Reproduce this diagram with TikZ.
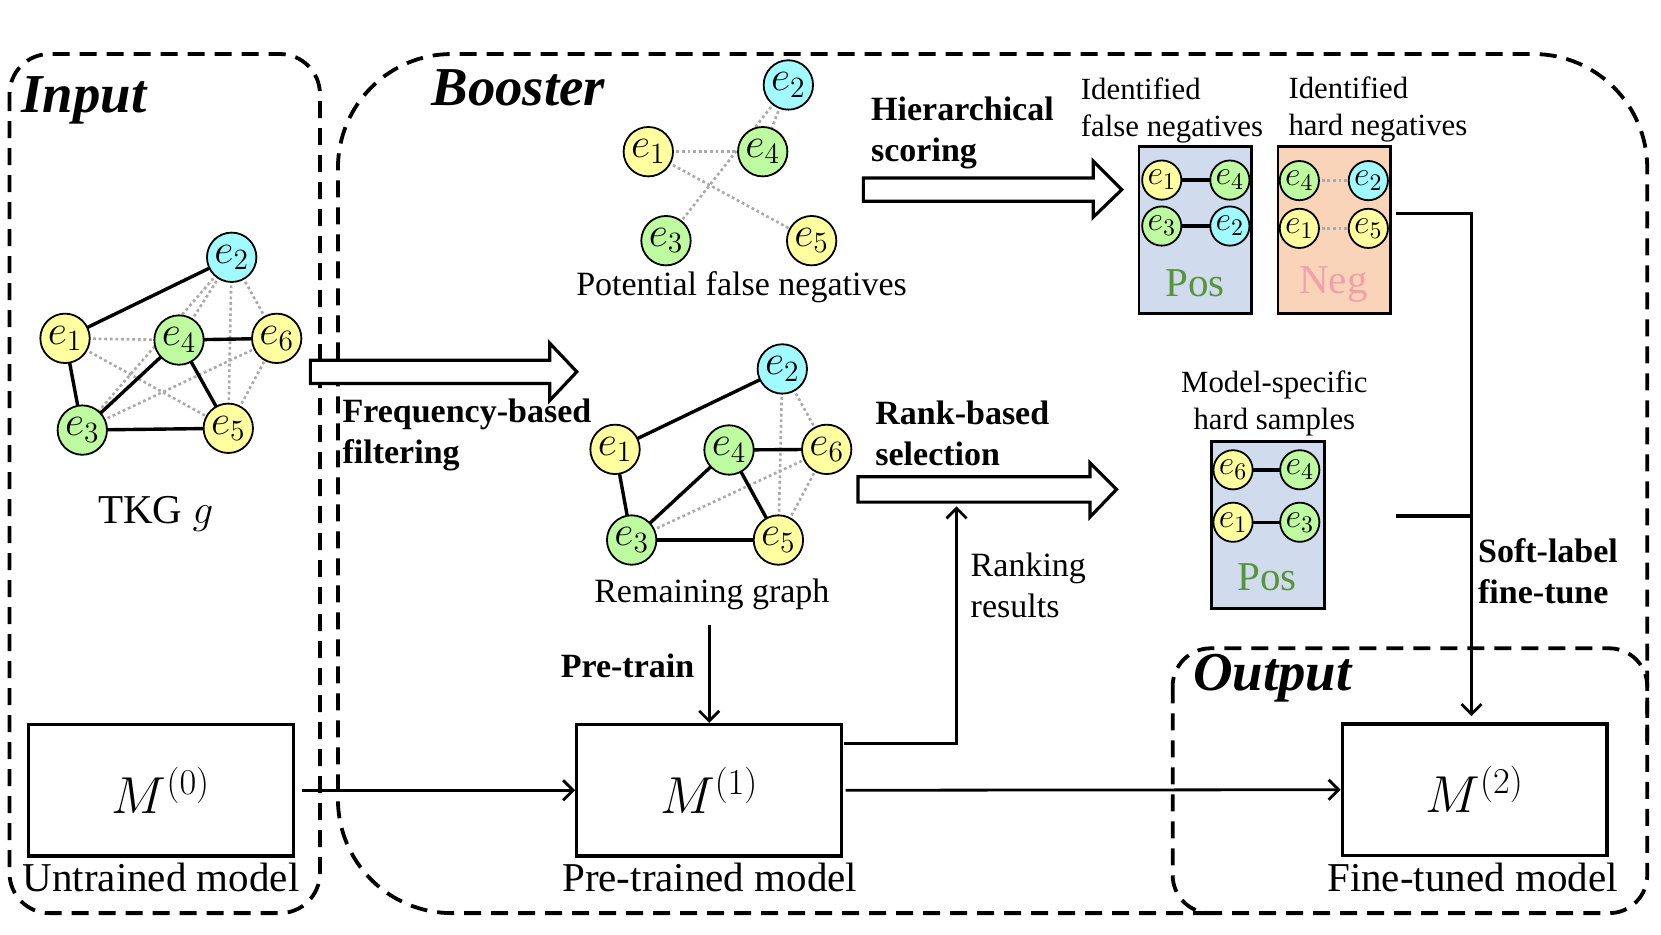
\RequirePackage{fix-cm}
\documentclass[tikz,border=0pt]{standalone}
\usepackage{fontspec}
\setmainfont{Liberation Serif}
\usetikzlibrary{arrows.meta}
\pgfdeclarelayer{back}
\pgfdeclarelayer{edges}
\pgfsetlayers{back,edges,main}
\definecolor{ey}{RGB}{255,255,160}
\definecolor{eg}{RGB}{190,250,160}
\definecolor{ec}{RGB}{160,250,255}
\definecolor{posfill}{RGB}{208,220,238}
\definecolor{negfill}{RGB}{250,212,185}
\definecolor{posgreen}{RGB}{88,148,58}
\definecolor{negpink}{RGB}{242,160,170}
\definecolor{dotgray}{RGB}{170,170,170}
\newcommand\fs[2]{\fontsize{#1}{#2}\selectfont}
\begin{document}
\begin{tikzpicture}[x=0.5296pt,y=-0.5296pt,
 every node/.style={inner sep=0pt},
 grp/.style={draw,line width=1.9pt,dash pattern=on 8.5pt off 5pt},
 ent/.style={circle,draw,line width=0.9pt,minimum size=24.7pt,inner sep=0pt,font=\fs{21}{24}},
 ents/.style={circle,draw,line width=0.9pt,minimum size=19.6pt,inner sep=0pt,font=\fs{17}{20}},
 sedge/.style={line width=1.7pt},
 dedge/.style={draw=dotgray,line width=1.3pt,dash pattern=on 1.4pt off 1.4pt},
 modelbox/.style={draw,line width=1.6pt,minimum width=132.4pt,minimum height=65.7pt,font=\fs{26}{30}},
 setbox/.style={draw,line width=1.3pt,minimum width=56.3pt,minimum height=83.3pt},
 conn/.style={line width=1.4pt,-{Straight Barb[length=5pt,width=10pt]}},
 barrow/.style={draw,line width=1.6pt,fill=white,line join=miter},
 title/.style={font=\fs{27.4}{32}\bfseries\itshape},
 blbl/.style={font=\fs{17}{20.7}\bfseries,align=left},
 rlbl/.style={font=\fs{17}{20.4}},
 slbl/.style={font=\fs{15.4}{18.5}},
 mlbl/.style={font=\fs{20.5}{24}},
 setlbl/.style={font=\fs{20.5}{24}},
 ]
\useasboundingbox (0,0) rectangle (1568,882);

% ---------- group frames ----------
\draw[grp, rounded corners=20pt] (9,51) rectangle (302,862);
\draw[grp, rounded corners=57pt] (1555,700) -- (1555,51) -- (319,51) -- (319,862) -- (1150,862);
\draw[grp, rounded corners=19pt] (1107,612) rectangle (1555,862);

\node[title, anchor=base west] (tin) at (20,106) {Input};
\node[title, anchor=base west] (tbo) at (407,100) {Booster};
\node[title, anchor=base west] (tout) at (1126,652) {Output};

% ---------- TKG ----------
\node[ent, fill=ey] (a1) at (61.4,319.4) {$e_1$};
\node[ent, fill=ec] (a2) at (218.7,242.9) {$e_2$};
\node[ent, fill=eg] (a3) at (77.7,406) {$e_3$};
\node[ent, fill=eg] (a4) at (169,321) {$e_4$};
\node[ent, fill=ey] (a5) at (215.5,404.3) {$e_5$};
\node[ent, fill=ey] (a6) at (261.2,319.4) {$e_6$};
\node[mlbl, anchor=base] (tkg) at (147,494) {TKG $g$};

% ---------- potential false negatives ----------
\node[ent, fill=ey] (c1) at (612,143.2) {$e_1$};
\node[ent, fill=ec] (c2) at (744.2,80.2) {$e_2$};
\node[ent, fill=eg] (c3) at (628.7,227.2) {$e_3$};
\node[ent, fill=eg] (c4) at (720,143.2) {$e_4$};
\node[ent, fill=ey] (c5) at (766.2,227.2) {$e_5$};
\node[rlbl, anchor=base] (pfn) at (700,279) {Potential false negatives};

% ---------- remaining graph ----------
\node[ent, fill=ey] (b1) at (580.6,424.2) {$e_1$};
\node[ent, fill=ec] (b2) at (738.5,348.3) {$e_2$};
\node[ent, fill=eg] (b3) at (596.3,509.8) {$e_3$};
\node[ent, fill=eg] (b4) at (688.2,424.8) {$e_4$};
\node[ent, fill=ey] (b5) at (734.8,509.8) {$e_5$};
\node[ent, fill=ey] (b6) at (780.4,424.2) {$e_6$};
\node[rlbl, anchor=base] (rg) at (672,569) {Remaining graph};

% ---------- sample sets ----------
\begin{pgfonlayer}{back}
\node[setbox, fill=posfill] (pos1) at (1128.5,217.2) {};
\node[setbox, fill=negfill] (neg1) at (1259.5,217.2) {};
\node[setbox, fill=posfill] (pos2) at (1197,495.7) {};
\end{pgfonlayer}
\node[ents, fill=ey] (p1) at (1096.7,170) {$e_1$};
\node[ents, fill=eg] (p4) at (1161,170) {$e_4$};
\node[ents, fill=eg] (p3) at (1096.7,213.4) {$e_3$};
\node[ents, fill=ec] (p2) at (1161,213.4) {$e_2$};
\node[setlbl, text=posgreen] (ptxt1) at (1128,267.5) {Pos};
\node[ents, fill=eg] (n4) at (1226.6,170.5) {$e_4$};
\node[ents, fill=ec] (n2) at (1291.7,170.5) {$e_2$};
\node[ents, fill=ey] (n1) at (1226.6,215.6) {$e_1$};
\node[ents, fill=ey] (n5) at (1291.7,215.6) {$e_5$};
\node[setlbl, text=negpink] (ntxt) at (1258.7,269) {Neg};
\node[ents, fill=ey] (h6) at (1164,443.5) {$e_6$};
\node[ents, fill=eg] (h4) at (1227,443.5) {$e_4$};
\node[ents, fill=ey] (h1) at (1164,493) {$e_1$};
\node[ents, fill=eg] (h3) at (1227,493) {$e_3$};
\node[setlbl, text=posgreen] (ptxt2) at (1196,545) {Pos};

\node[slbl, anchor=north west, align=left] (ifn) at (1020,73) {Identified\\false negatives};
\node[slbl, anchor=north west, align=left] (ihn) at (1216,72) {Identified\\hard negatives};
\node[slbl, anchor=north, align=center] (mhs) at (1203,350) {Model-specific\\hard samples};

% ---------- edges ----------
\begin{pgfonlayer}{edges}
\foreach \u/\v in {a1/a4,a1/a5,a2/a4,a2/a3,a2/a5,a2/a6,a3/a6,a5/a6,
                   b2/b5,b2/b6,b3/b6,b5/b6,
                   c1/c4,c1/c5,c2/c4,c2/c3,
                   n4/n2,n1/n5}
  \draw[dedge] (\u.center) -- (\v.center);
\foreach \u/\v in {a1/a2,a1/a3,a3/a4,a4/a6,a4/a5,a3/a5,
                   b1/b2,b1/b3,b3/b4,b4/b6,b4/b5,b3/b5,
                   p1/p4,p3/p2,h6/h4,h1/h3}
  \draw[sedge] (\u.center) -- (\v.center);
\end{pgfonlayer}

% ---------- block arrows ----------
\draw[barrow] (293,340) -- (519,340) -- (519,324) -- (544.5,351) -- (519,378) -- (519,362) -- (293,362) -- cycle;
\draw[barrow] (815,168) -- (1032,168) -- (1032,152) -- (1059,179) -- (1032,205) -- (1032,190) -- (815,190) -- cycle;
\draw[barrow] (810,450) -- (1029,450) -- (1029,437) -- (1054,462) -- (1029,488) -- (1029,474) -- (810,474) -- cycle;

\node[blbl, anchor=north west] (fbf) at (323,376) {Frequency-based\\filtering};
\node[blbl, anchor=north west] (hsc) at (822,91) {Hierarchical\\scoring};
\node[blbl, anchor=north west] (rbs) at (826,378) {Rank-based\\selection};
\node[blbl, anchor=base west] (ptr) at (529,640) {Pre-train};
\node[blbl, anchor=north west] (slf) at (1395,508) {Soft-label\\fine-tune};
\node[rlbl, anchor=north west, align=left] (rkr) at (916,522) {Ranking\\results};

% ---------- models ----------
\node[modelbox] (m0) at (152,746) {$M^{(0)}$};
\node[modelbox] (m1) at (669.5,746) {$M^{(1)}$};
\node[modelbox] (m2) at (1392,745.5) {$M^{(2)}$};
\node[mlbl, anchor=base] (l0) at (152,842) {Untrained model};
\node[mlbl, anchor=base] (l1) at (670,842) {Pre-trained model};
\node[mlbl, anchor=base] (l2) at (1390,842) {Fine-tuned model};

% ---------- connectors ----------
\coordinate (ptop) at (669.5,590);
\coordinate (rk0) at (797,702);
\coordinate (rk1) at (903,702);
\coordinate (rk2) at (903,478);
\coordinate (s1) at (1318,201.4);
\coordinate (s2) at (1318,487);
\coordinate (sc) at (1389,201.4);
\coordinate (sj) at (1389,487);
\coordinate (se) at (1389,676);

\draw[conn] ([xshift=3.7pt]m0.east) -- (m1.west);
\draw[conn] ([xshift=1.2pt]m1.east) -- (m2.west);
\draw[conn] (ptop) -- (m1.north);
\draw[conn] (rk0) -- (rk1) -- (rk2);
\draw[conn] (s1) -- (sc) -- (se);
\draw[sedge] (s2) -- (sj);
\end{tikzpicture}
\end{document}
